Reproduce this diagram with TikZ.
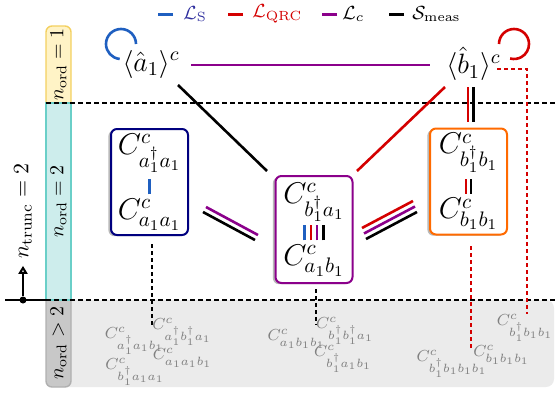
\RequirePackage{fix-cm}
\documentclass[tikz,border=0pt]{standalone}
\usepackage{tikz}
\usetikzlibrary{arrows.meta, positioning, calc, shadows}

\definecolor{lsblue}{HTML}{1F5FC0}
\definecolor{lstext}{HTML}{2E2E9E}
\definecolor{qrcred}{HTML}{D40000}
\definecolor{lcpurple}{HTML}{8B008B}
\definecolor{boxnavy}{HTML}{00007F}
\definecolor{boxorange}{HTML}{FF6A00}
\definecolor{bandyellow}{HTML}{FFF3C6}
\definecolor{bandyellowline}{HTML}{F3D060}
\definecolor{bandteal}{HTML}{CDEDEC}
\definecolor{bandtealline}{HTML}{6ACFC8}
\definecolor{bandgray}{HTML}{C8C8C8}
\definecolor{bandgrayline}{HTML}{B0B0B0}
\definecolor{regiongray}{HTML}{EBEBEB}
\definecolor{smallgray}{HTML}{808080}

\newcommand{\vbar}[1]{\textcolor{#1}{\rule{1.2pt}{7.5pt}}}

\begin{document}
\begin{tikzpicture}[x=0.5pt,y=0.5pt,font=\fontsize{10}{12}\selectfont,
  cbox/.style={draw, line width=1pt, rounded corners=3pt, fill=white, align=center,
    minimum width=38.5pt, minimum height=53pt, inner sep=1pt, font=\fontsize{15}{18}\selectfont,
    general shadow={fill=gray!55, shadow xshift=-1.3pt, shadow yshift=-0.6pt}},
  expval/.style={font=\fontsize{14}{17}\selectfont, inner sep=2pt},
  hiord/.style={text=smallgray, font=\fontsize{8}{10}\selectfont, inner sep=0pt},
  bandlabel/.style={rotate=90},
  leglabel/.style={anchor=west, inner sep=0pt, font=\fontsize{9.5}{11}\selectfont},
  legline/.style={line width=1.5pt},
  link/.style={line width=1.3pt},
  ordline/.style={line width=1.1pt, dash pattern=on 2.6pt off 1.4pt},
  drop/.style={line width=0.7pt, dash pattern=on 2pt off 1.5pt}]
\useasboundingbox (0,0) rectangle (556,393);

% order bands and the truncated region
\fill[regiongray, rounded corners=4pt] (60,6) rectangle (554,93);
\draw[bandyellowline, fill=bandyellow, line width=0.7pt, rounded corners=3pt] (46,280) rectangle (71,367);
\draw[bandgrayline, fill=bandgray, line width=0.7pt, rounded corners=3pt] (46,6) rectangle (71,100);
\draw[bandtealline, fill=bandteal, line width=0.7pt] (46,93) rectangle (71,290);
\node[bandlabel] (ord1) at (58.5,328.5) {$n_{\mathrm{ord}}=1$};
\node[bandlabel] (ord2) at (58.5,191.5) {$n_{\mathrm{ord}}=2$};
\node[bandlabel] (ord3) at (58.5,50) {$n_{\mathrm{ord}}>2$};
\draw[ordline] (46,290) -- (556,290);
\draw[ordline] (46,93) -- (556,93);
\draw[line width=1.1pt] (5,93) -- (46,93);

% truncation marker
\node[circle, fill, inner sep=0pt, minimum size=3.5pt] (trdot) at (23,93) {};
\node[bandlabel, font=\fontsize{11}{13}\selectfont] (trunc) at (23,182) {$n_{\mathrm{trunc}}=2$};
\draw[line width=1pt, -{Triangle[open, length=4pt, width=4.5pt]}] (trdot) -- (trdot |- trunc.west);

% legend
\node[leglabel, text=lstext] (legS) at (183,379) {$\mathcal{L}_{\mathrm{S}}$};
\node[leglabel, text=qrcred] (legQ) at (252,379) {$\mathcal{L}_{\mathrm{QRC}}$};
\node[leglabel] (legC) at (342,379) {$\mathcal{L}_{c}$};
\node[leglabel] (legM) at (412,379) {$\mathcal{S}_{\mathrm{meas}}$};
\draw[legline, lsblue] ([xshift=-5pt]legS.west) -- ++(-7.5pt,0);
\draw[legline, qrcred] ([xshift=-4.5pt]legQ.west) -- ++(-7.5pt,0);
\draw[legline, lcpurple] ([xshift=-2.5pt]legC.west) -- ++(-7.5pt,0);
\draw[legline] ([xshift=-4pt]legM.west) -- ++(-7.5pt,0);

% first order
\node[expval] (a1) at (151,329) {$\langle\hat{a}_1\rangle^c$};
\node[expval] (b1) at (473.5,329) {$\langle\hat{b}_1\rangle^c$};
\draw[link, lsblue] ([shift={(-15,20)}]a1.center) arc[start angle=0, end angle=265, radius=15];
\draw[link, qrcred] ([shift={(25.5,20)}]b1.center) arc[start angle=180, end angle=-105, radius=15];
\draw[link, lcpurple] ([shift={(40,-1)}]a1.center) -- ([shift={(-43.5,-1)}]b1.center);

% second order
\node[cbox, draw=boxnavy] (lbox) at (149.5,211)
  {$C^c_{a_1^\dagger a_1}$\\[2pt] \vbar{lsblue}\\[-5.5pt] $C^c_{a_1 a_1}$};
\node[cbox, draw=lcpurple, minimum height=53.5pt] (mid) at (314,163.5)
  {$C^c_{b_1^\dagger a_1}$\\[0.5pt] \vbar{lsblue}\hspace{2pt}\vbar{qrcred}\hspace{2pt}\vbar{lcpurple}\hspace{2pt}\vbar{black}\\[-5.5pt] $C^c_{a_1 b_1}$};
\node[cbox, draw=boxorange] (rbox) at (468.5,211.5)
  {$C^c_{b_1^\dagger b_1}$\\[2pt] \vbar{qrcred}\hspace{1.3pt}\vbar{black}\\[-5.5pt] $C^c_{b_1 b_1}$};

\draw[link] ([shift={(27,-21)}]a1.center) -- ([shift={(-47,58.5)}]mid.center);
\draw[link, qrcred] ([shift={(-28.5,-23)}]b1.center) -- ([shift={(43,58.5)}]mid.center);
\draw[link, qrcred] ([shift={(-5.5,-23)}]b1.center) -- ([shift={(-0.5,59.5)}]rbox.center);
\draw[link] ([shift={(0,-23)}]b1.center) -- ([shift={(5,59.5)}]rbox.center);
\draw[link, lcpurple] ([shift={(56.5,-25)}]lbox.center) -- ([shift={(-56,-5.5)}]mid.center);
\draw[link] ([shift={(53.5,-30)}]lbox.center) -- ([shift={(-59,-10.5)}]mid.center);
\draw[link, qrcred] ([shift={(48,1.5)}]mid.center) -- ([shift={(-55.5,-19.5)}]rbox.center);
\draw[link, lcpurple] ([shift={(50,-4)}]mid.center) -- ([shift={(-53.5,-25)}]rbox.center);
\draw[link] ([shift={(52,-9.5)}]mid.center) -- ([shift={(-51.5,-30.5)}]rbox.center);

% higher orders
\node[hiord] (l1) at (134.5,52) {$C^c_{a_1^\dagger a_1 b_1}$};
\node[hiord] (l2) at (182,61) {$C^c_{a_1^\dagger b_1^\dagger a_1}$};
\node[hiord] (l3) at (182.5,35) {$C^c_{a_1 a_1 b_1}$};
\node[hiord] (l4) at (135,21) {$C^c_{b_1^\dagger a_1 a_1}$};
\node[hiord] (m1) at (296.5,54) {$C^c_{a_1 b_1 b_1}$};
\node[hiord] (m2) at (345,62) {$C^c_{b_1^\dagger b_1^\dagger a_1}$};
\node[hiord] (m3) at (343,34) {$C^c_{b_1^\dagger a_1 b_1}$};
\node[hiord] (r1) at (525,65) {$C^c_{b_1^\dagger b_1 b_1}$};
\node[hiord] (r2) at (501.5,38) {$C^c_{b_1 b_1 b_1}$};
\node[hiord] (r3) at (452,29) {$C^c_{b_1^\dagger b_1 b_1 b_1}$};

\coordinate (ldrop) at (152,68);
\coordinate (mdrop) at (316,68);
\coordinate (rdrop) at (471,43);
\draw[drop] ([shift={(2.5,-8)}]lbox.south) -- (ldrop);
\draw[drop] ([shift={(2,-5)}]mid.south) -- (mdrop);
\draw[drop, qrcred] ([shift={(2.5,-10.5)}]rbox.south) -- (rdrop);
\draw[drop, qrcred] ([shift={(23.5,-5)}]b1.center) -| ([xshift=1pt]r1.north);
\end{tikzpicture}
\end{document}
